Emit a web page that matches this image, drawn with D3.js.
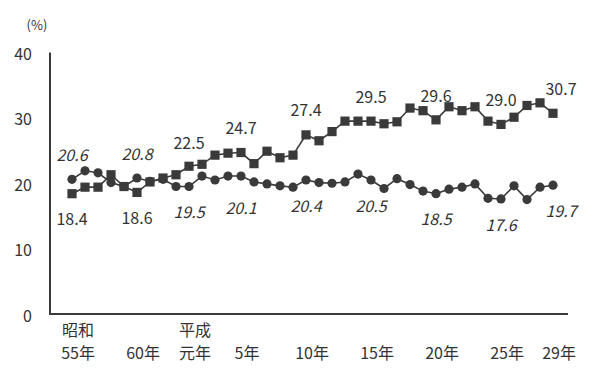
<!DOCTYPE html>
<meta charset="utf-8">
<style>

body {
  margin: 0;
  background: #fff;
}

svg {
  font-family: "Noto Sans CJK JP", "Noto Sans", sans-serif;
  fill: #333;
}

</style>
<svg width="600" height="373"></svg>
<script src="https://cdn.jsdelivr.net/npm/d3@7"></script>
<script>

var years = [1980, 1981, 1982, 1983, 1984, 1985, 1986, 1987, 1988, 1989,
             1990, 1991, 1992, 1993, 1994, 1995, 1996, 1997, 1998, 1999,
             2000, 2001, 2002, 2003, 2004, 2005, 2006, 2007, 2008, 2009,
             2010, 2011, 2012, 2013, 2014, 2015, 2016, 2017];

// square markers
var seriesA = [18.4, 19.4, 19.4, 21.3, 19.5, 18.6, 20.2, 20.8, 21.3, 22.6,
               22.9, 24.3, 24.6, 24.7, 23.0, 24.9, 23.9, 24.3, 27.4, 26.5,
               27.9, 29.5, 29.5, 29.5, 29.1, 29.4, 31.5, 31.1, 29.7, 31.7,
               31.1, 31.7, 29.5, 29.0, 30.1, 31.9, 32.3, 30.7];

// circle markers
var seriesB = [20.6, 21.9, 21.6, 20.1, 19.5, 20.8, 20.3, 20.6, 19.5, 19.5,
               21.1, 20.5, 21.1, 21.1, 20.2, 19.9, 19.6, 19.4, 20.5, 20.1,
               20.0, 20.2, 21.4, 20.5, 19.2, 20.7, 19.8, 18.8, 18.4, 19.1,
               19.4, 19.9, 17.7, 17.6, 19.6, 17.5, 19.4, 19.7];

var yTicks = [0, 10, 20, 30, 40];

var xTickYears = [1980, 1985, 1989, 1993, 1998, 2003, 2008, 2013, 2017];
var xTickTop = ["昭和", "", "平成", "", "", "", "", "", ""];
var xTickBottom = ["55年", "60年", "元年", "5年", "10年", "15年", "20年", "25年", "29年"];

// printed value labels: year, series, text, side
var labelYears  = [1980, 1985, 1989, 1993, 1998, 2003, 2008, 2013, 2017,
                   1980, 1985, 1989, 1993, 1998, 2003, 2008, 2013, 2017];
var labelSeries = ["B", "B", "A", "A", "A", "A", "A", "A", "A",
                   "A", "A", "B", "B", "B", "B", "B", "B", "B"];
var labelTexts  = ["20.6", "20.8", "22.5", "24.7", "27.4", "29.5", "29.6", "29.0", "30.7",
                   "18.4", "18.6", "19.5", "20.1", "20.4", "20.5", "18.5", "17.6", "19.7"];
var labelSides  = ["up", "up", "up", "up", "up", "up", "up", "up", "up",
                   "down", "down", "down", "down", "down", "down", "down", "down", "down"];

</script>
<script>

var svg = d3.select("svg");

var x = d3.scaleLinear().domain([1980, 2017]).range([72, 553]),
    y = d3.scaleLinear().domain([0, 40]).range([314, 52.5]);

var ink = "#3a3a3a";

// axes
svg.append("line")
    .attr("x1", 50).attr("x2", 50)
    .attr("y1", y(40)).attr("y2", y(0))
    .attr("stroke", ink)
    .attr("stroke-width", 2);

svg.append("line")
    .attr("x1", 49).attr("x2", 568)
    .attr("y1", y(0)).attr("y2", y(0))
    .attr("stroke", ink)
    .attr("stroke-width", 2);

svg.append("g").selectAll("text")
  .data(yTicks)
  .enter().append("text")
    .attr("x", 32)
    .attr("y", function(d) { return y(d) + 2; })
    .attr("dy", "0.35em")
    .attr("text-anchor", "end")
    .attr("font-size", 16)
    .text(function(d) { return d; });

svg.append("text")
    .attr("x", 37)
    .attr("y", 25)
    .attr("dy", "0.35em")
    .attr("text-anchor", "middle")
    .attr("font-size", 13)
    .text("(%)");

var xt = svg.append("g").selectAll("g")
  .data(xTickYears)
  .enter().append("g")
    .attr("transform", function(d) { return "translate(" + (x(d) + 6) + ",0)"; });

xt.append("text")
    .attr("y", 330)
    .attr("dy", "0.35em")
    .attr("text-anchor", "middle")
    .attr("font-size", 16)
    .text(function(d, i) { return xTickTop[i]; });

xt.append("text")
    .attr("y", 353)
    .attr("dy", "0.35em")
    .attr("text-anchor", "middle")
    .attr("font-size", 16)
    .text(function(d, i) { return xTickBottom[i]; });

// lines
var line = d3.line()
    .x(function(d, i) { return x(years[i]); })
    .y(function(d) { return y(d); });

[seriesA, seriesB].forEach(function(s) {
  svg.append("path")
      .attr("fill", "none")
      .attr("stroke", ink)
      .attr("stroke-width", 1.6)
      .attr("d", line(s));
});

// markers
svg.append("g").selectAll("circle")
  .data(seriesB)
  .enter().append("circle")
    .attr("cx", function(d, i) { return x(years[i]); })
    .attr("cy", function(d) { return y(d); })
    .attr("r", 4.6)
    .attr("fill", ink);

svg.append("g").selectAll("rect")
  .data(seriesA)
  .enter().append("rect")
    .attr("x", function(d, i) { return x(years[i]) - 4.6; })
    .attr("y", function(d) { return y(d) - 4.6; })
    .attr("width", 9.2)
    .attr("height", 9.2)
    .attr("fill", ink);

// value labels
svg.append("g").selectAll("text")
  .data(labelTexts)
  .enter().append("text")
    .attr("x", function(d, i) { return x(labelYears[i]) + (labelYears[i] === 2017 ? 8 : 0); })
    .attr("y", function(d, i) { return y(+d) + (labelSides[i] === "up" ? -24 : 26); })
    .attr("dy", "0.35em")
    .attr("text-anchor", "middle")
    .attr("font-size", 16)
    .attr("font-style", function(d, i) { return labelSeries[i] === "B" ? "italic" : null; })
    .text(function(d) { return d; });

</script>
